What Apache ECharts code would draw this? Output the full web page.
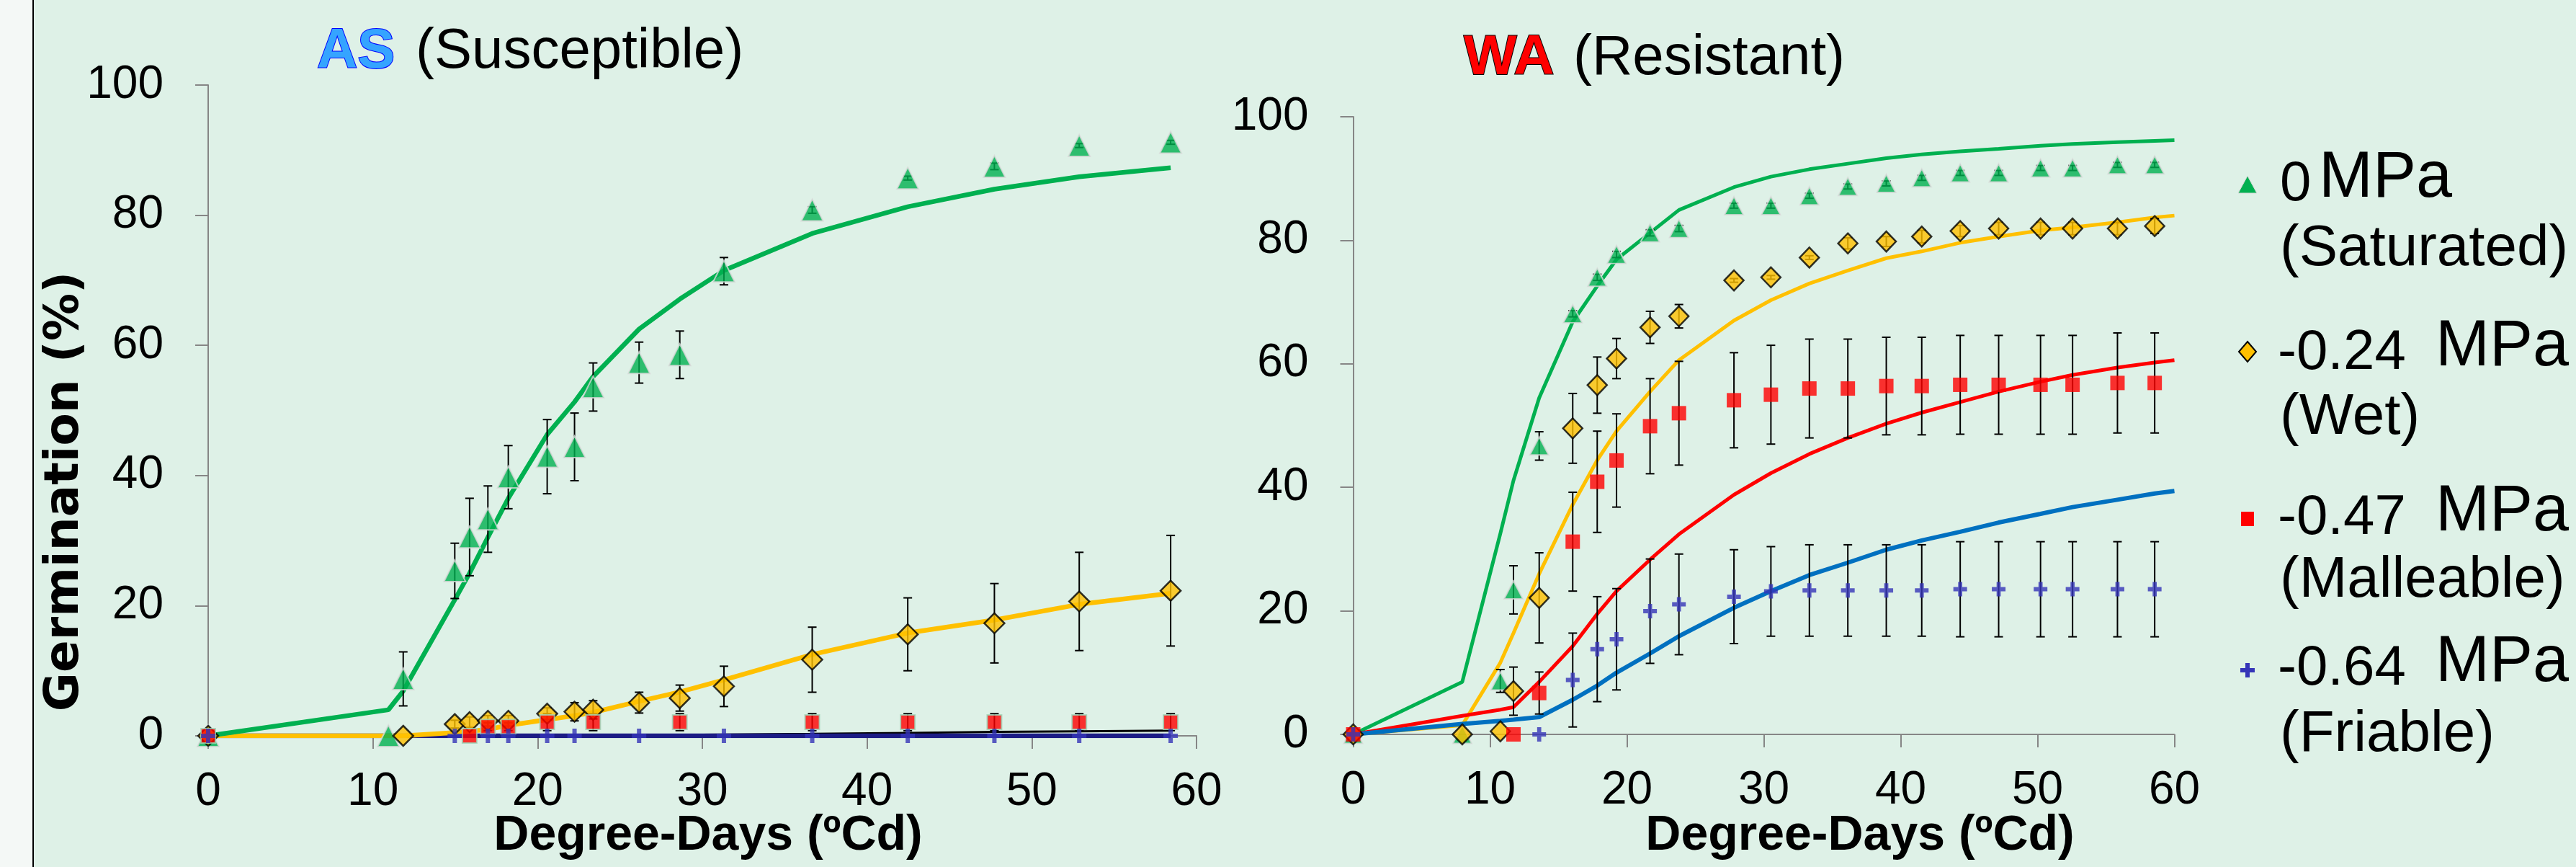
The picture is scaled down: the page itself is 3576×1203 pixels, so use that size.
<!DOCTYPE html>
<html>
<head>
<meta charset="utf-8">
<script src="https://cdn.jsdelivr.net/npm/echarts@6.0.0/dist/echarts.min.js"></script>
<style>
  html, body { margin: 0; padding: 0; background: #def1e7; }
  #chart { width: 3576px; height: 1203px; }
</style>
</head>
<body>
<div id="chart"></div>
<script>
// ---- AS (Susceptible) ----
const asX = [0, 10.94, 11.84, 14.97, 15.87, 16.98, 18.22, 20.58, 22.24, 23.37, 26.16, 28.63, 31.31, 36.67, 42.47, 47.73, 52.88, 58.43];
const asSat = [0, 0, 8.75, 25.35, 30.55, 33.3, 39.75, 42.9, 44.4, 53.6, 57.35, 58.55, 71.4, 80.8, 85.7, 87.5, 90.7, 91.2];
const asSatErr = [1, 0, 4.15, 4.25, 5.95, 5.1, 4.85, 5.7, 5.2, 3.7, 3.15, 3.65, 2.1, 0.5, 0.3, 0.5, 0.3, 0.3];
const asSatFit = [0, 4.0, 6.9, 20.9, 25.0, 30.5, 36.5, 46.3, 51.3, 55.2, 62.5, 67.1, 71.5, 77.2, 81.3, 84.0, 85.9, 87.3];
const asWet = [0, null, 0, 1.8, 2.1, 2.3, 2.3, 3.4, 3.7, 4.0, 5.1, 5.8, 7.6, 11.7, 15.6, 17.3, 20.65, 22.3];
const asWetErr = [1, null, 0, 0.6, 0.8, 0.8, 0.8, 0.9, 1.4, 1.4, 1.6, 2.0, 3.1, 5.0, 5.6, 6.1, 7.55, 8.5];
const asWetFit = [0, 0, 0, 0.5, 0.7, 1.0, 1.6, 2.5, 3.1, 3.6, 5.3, 6.75, 8.6, 12.5, 15.8, 17.8, 20.2, 21.9];
const asMal = [0, null, null, null, 0, 1.4, 1.4, 2.1, null, 2.1, null, 2.1, null, 2.1, 2.1, 2.1, 2.1, 2.1];
const asMalErr = [1, null, null, null, 0, 0.6, 0.6, 1.3, null, 1.3, null, 1.3, null, 1.3, 1.3, 1.3, 1.3, 1.3];
const asMalFit = [0, 0, 0, 0, 0, 0, 0, 0.05, 0.08, 0.1, 0.12, 0.15, 0.2, 0.3, 0.45, 0.6, 0.7, 0.8];
const asFri = [0, null, null, 0, null, 0, 0, 0, 0, null, 0, null, 0, 0, 0, 0, 0, 0];
const asFriFit = [0, 0, 0, 0, 0, 0, 0, 0, 0, 0, 0, 0, 0, 0, 0, 0, 0, 0];

// ---- WA (Resistant) ----
const waX = [0, 7.97, 10.75, 11.71, 13.59, 16.04, 17.83, 19.24, 21.69, 23.8, 27.82, 30.52, 33.33, 36.14, 38.95, 41.54, 44.35, 47.16, 50.22, 52.56, 55.84, 58.56];
const waFitX = [0, 7.97, 10.75, 11.71, 13.59, 16.04, 17.83, 19.24, 21.69, 23.8, 27.82, 30.52, 33.33, 36.14, 38.95, 41.54, 44.35, 47.16, 50.22, 52.56, 55.84, 58.56, 60];
const waSat = [0, 0, 8.65, 23.4, 46.7, 68.1, 74.0, 77.7, 81.2, 81.9, 85.6, 85.6, 87.2, 88.7, 89.2, 90.1, 90.9, 90.9, 91.7, 91.7, 92.2, 92.2];
const waSatErr = [0, 0, 1.85, 3.9, 2.3, 0.5, 0.5, 0.5, 0.5, 0.5, 0.4, 0.4, 0.4, 0.4, 0.4, 0.4, 0.4, 0.4, 0.4, 0.4, 0.4, 0.4];
const waSatFit = [0, 8.5, 32.5, 41.1, 54.5, 66.8, 72.6, 76.9, 81.2, 84.9, 88.6, 90.3, 91.5, 92.4, 93.3, 93.9, 94.4, 94.8, 95.3, 95.6, 95.9, 96.1, 96.2];
const waWet = [0, 0, 0.5, 7.0, 22.1, 49.55, 56.55, 60.85, 65.9, 67.7, 73.5, 74.0, 77.2, 79.5, 79.8, 80.6, 81.5, 81.9, 81.9, 81.9, 81.9, 82.3];
const waWetErr = [0, 0, 0, 3.9, 7.3, 5.65, 4.55, 3.25, 2.6, 1.9, 0.3, 0.3, 0.3, 0.9, 0.8, 1.0, 0.9, 1.0, 1.0, 1.0, 1.0, 1.2];
const waWetFit = [0, 1.5, 11.6, 16.4, 26.0, 37.2, 44.4, 49.1, 55.5, 60.6, 67.0, 70.3, 73.0, 75.1, 77.1, 78.2, 79.6, 80.6, 81.6, 82.1, 82.9, 83.7, 84.0];
const waMal = [0, null, null, 0, 6.7, 31.2, 40.9, 44.35, 49.9, 52.0, 54.1, 55.0, 56.0, 56.0, 56.4, 56.4, 56.6, 56.6, 56.6, 56.6, 56.9, 56.9];
const waMalErr = [0, null, null, 0, 3.4, 8.0, 8.2, 7.55, 7.7, 8.4, 7.7, 8.0, 8.0, 8.0, 7.9, 7.9, 8.0, 8.0, 8.0, 8.0, 8.1, 8.1];
const waMalFit = [0, 3.0, 4.0, 4.4, 8.5, 14.3, 19.5, 23.2, 28.3, 32.4, 38.8, 42.3, 45.4, 48.0, 50.3, 52.1, 53.8, 55.5, 57.1, 58.2, 59.4, 60.2, 60.6];
const waFri = [0, null, null, null, 0, 8.8, 13.8, 15.4, 19.95, 21.05, 22.3, 23.15, 23.3, 23.3, 23.3, 23.3, 23.5, 23.5, 23.5, 23.5, 23.5, 23.5];
const waFriErr = [0, null, null, null, 0, 7.6, 8.5, 8.2, 8.45, 8.15, 7.6, 7.25, 7.4, 7.4, 7.4, 7.4, 7.7, 7.7, 7.7, 7.7, 7.7, 7.7];
const waFriFit = [0, 1.7, 2.2, 2.4, 2.8, 5.6, 7.9, 10.0, 13.1, 15.9, 20.5, 23.2, 25.8, 27.8, 29.9, 31.4, 32.8, 34.3, 35.7, 36.8, 38.0, 39.0, 39.4];

const xTicks = [0, 10, 20, 30, 40, 50, 60];
const yTicks = [0, 20, 40, 60, 80, 100];
const legendNums = ["0", "-0.24", "-0.47", "-0.64"];
const legendNotes = ["(Saturated)", "(Wet)", "(Malleable)", "(Friable)"];

const FONT = '"Liberation Sans", Arial, sans-serif';
const WIDE = '"DejaVu Sans", Verdana, sans-serif';
const GREEN = "#00b050", YELLOW = "#ffc000", RED = "#ff0000", PLUS = "#3535b8";
const plusPath = "path://M3.5,0h3v3.5h3.5v3h-3.5v3.5h-3v-3.5h-3.5v-3h3.5z";

const pairs = (xs, ys) => xs.map((x, i) => (ys[i] == null ? null : [x, ys[i]])).filter(Boolean);
const triples = (xs, ys, es) =>
    xs.map((x, i) => (ys[i] == null || !es[i] ? null : [x, ys[i], es[i]])).filter(Boolean);

const fitLine = (g, xs, ys, color, width, z) => ({
    type: "line", xAxisIndex: g, yAxisIndex: g, data: pairs(xs, ys),
    showSymbol: false, symbol: "none", smooth: false, z: z || 2,
    lineStyle: { color: color, width: width }, silent: true,
});

const marks = (g, xs, ys, symbol, size, style) => ({
    type: "scatter", xAxisIndex: g, yAxisIndex: g, data: pairs(xs, ys),
    symbol: symbol, symbolSize: size, itemStyle: style, z: 5, silent: true,
});

// vertical error bar with caps, placed through the axis scales
const errBars = (g, xs, ys, es) => ({
    type: "custom", xAxisIndex: g, yAxisIndex: g, data: triples(xs, ys, es), z: 3, silent: true,
    renderItem: (params, api) => {
        const x = api.value(0), y = api.value(1), e = api.value(2);
        const top = api.coord([x, y + e]);
        const bot = api.coord([x, y - e]);
        const s = { stroke: "#000", lineWidth: 2 };
        return {
            type: "group",
            children: [
                { type: "line", shape: { x1: top[0], y1: top[1], x2: bot[0], y2: bot[1] }, style: s },
                { type: "line", shape: { x1: top[0] - 6, y1: top[1], x2: top[0] + 6, y2: top[1] }, style: s },
                { type: "line", shape: { x1: bot[0] - 6, y1: bot[1], x2: bot[0] + 6, y2: bot[1] }, style: s },
            ],
        };
    },
});

const axisGray = { color: "#868686", width: 2 };
const makeX = (g) => ({
    gridIndex: g, type: "value", min: xTicks[0], max: xTicks[xTicks.length - 1], interval: 10,
    axisLine: { show: true, onZero: false, lineStyle: axisGray },
    axisTick: { show: true, length: 18, lineStyle: axisGray },
    axisLabel: { fontSize: 64, color: "#000", fontFamily: FONT, margin: 46 },
    splitLine: { show: false },
});
const makeY = (g) => ({
    gridIndex: g, type: "value", min: yTicks[0], max: yTicks[yTicks.length - 1], interval: 20,
    axisLine: { show: true, lineStyle: axisGray },
    axisTick: { show: true, length: 18, lineStyle: axisGray },
    axisLabel: { fontSize: 64, color: "#000", fontFamily: FONT, margin: 62 },
    splitLine: { show: false },
});

const txt = (x, y, text, font, extra) => ({
    type: "text", x: x, y: y, z: 10,
    style: Object.assign({ text: text, font: font, fill: "#000", align: "left", verticalAlign: "middle" }, extra || {}),
});

// legend rows: first-line centre y, second-line centre y
const legendRows = [
    { ny: 252, ly: 346 },
    { ny: 486, ly: 580 },
    { ny: 715, ly: 806 },
    { ny: 924, ly: 1020 },
];
const legendMarkers = [
    { type: "polygon", shape: { points: [[3107, 268], [3133, 268], [3120, 244]] }, style: { fill: GREEN, stroke: "#d9d9d9", lineWidth: 1 } },
    { type: "polygon", shape: { points: [[3120, 474], [3132, 488], [3120, 502], [3108, 488]] }, style: { fill: YELLOW, stroke: "#000", lineWidth: 2 } },
    { type: "rect", shape: { x: 3111, y: 710, width: 18, height: 20 }, style: { fill: RED } },
    { type: "rect", shape: { x: 3117, y: 920, width: 6, height: 20 }, style: { fill: PLUS } },
    { type: "rect", shape: { x: 3110, y: 927, width: 20, height: 6 }, style: { fill: PLUS } },
];

const graphics = [
    { type: "rect", shape: { x: 0, y: 0, width: 45, height: 1203 }, style: { fill: "#f4f8f6" } },
    { type: "line", shape: { x1: 46, y1: 0, x2: 46, y2: 1203 }, style: { stroke: "#000", lineWidth: 2 } },
    txt(440, 72, "AS", "bold 78px " + FONT, { fill: "#35a4ff", stroke: "#0000ff", lineWidth: 2 }),
    txt(577, 72, "(Susceptible)", "78px " + FONT),
    txt(2032, 81, "WA", "bold 78px " + FONT, { fill: "#ff0000", stroke: "#000", lineWidth: 2 }),
    txt(2184, 81, "(Resistant)", "78px " + FONT),
    Object.assign(txt(91, 682, "Germination (%)", "bold 66px " + WIDE, { align: "center" }), { rotation: Math.PI / 2 }),
    txt(983, 1160, "Degree-Days (ºCd)", "bold 68px " + FONT, { align: "center" }),
    txt(2582, 1160, "Degree-Days (ºCd)", "bold 68px " + FONT, { align: "center" }),
].concat(legendMarkers.map((m) => Object.assign({ z: 10 }, m)));

legendRows.forEach((r, i) => {
    const numX = i === 0 ? 3165 : 3162;
    const mpaX = i === 0 ? 3219 : 3381;
    graphics.push(txt(numX, r.ny + 4, legendNums[i], "78px " + FONT));
    graphics.push(txt(mpaX, r.ny - 4, "MPa", "90px " + FONT));
    graphics.push(txt(3165, r.ly, legendNotes[i], "80px " + FONT));
});

const chart = echarts.init(document.getElementById("chart"));
chart.setOption({
    backgroundColor: "#def1e7",
    animation: false,
    textStyle: { fontFamily: FONT },
    grid: [
        { left: 289, top: 118, width: 1372, height: 903 },
        { left: 1878.5, top: 162, width: 1140, height: 857 },
    ],
    xAxis: [makeX(0), makeX(1)],
    yAxis: [makeY(0), makeY(1)],
    series: [
        // AS fitted curves
        fitLine(0, asX, asMalFit, "#000", 3, 2),
        fitLine(0, asX, asFriFit, "#1c1c85", 6.5, 2),
        fitLine(0, asX, asWetFit, YELLOW, 6.5, 2),
        fitLine(0, asX, asSatFit, GREEN, 6.5, 2),
        // AS error bars
        errBars(0, asX, asSat, asSatErr),
        errBars(0, asX, asWet, asWetErr),
        errBars(0, asX, asMal, asMalErr),
        // AS observations
        marks(0, asX, asSat, "triangle", [30, 30], { color: GREEN, borderColor: "#d9d9d9", borderWidth: 2 }),
        marks(0, asX, asWet, "diamond", [28, 28], { color: YELLOW, borderColor: "#000", borderWidth: 2.5 }),
        marks(0, asX, asMal, "rect", [20, 20], { color: RED, borderColor: "#9fd3b6", borderWidth: 2 }),
        marks(0, asX, asFri, plusPath, [20, 20], { color: PLUS }),
        // WA fitted curves
        fitLine(1, waFitX, waSatFit, GREEN, 5, 2),
        fitLine(1, waFitX, waWetFit, YELLOW, 5, 2),
        fitLine(1, waFitX, waMalFit, RED, 5, 2),
        fitLine(1, waFitX, waFriFit, "#0070c0", 6, 2),
        // WA error bars
        errBars(1, waX, waSat, waSatErr),
        errBars(1, waX, waWet, waWetErr),
        errBars(1, waX, waMal, waMalErr),
        errBars(1, waX, waFri, waFriErr),
        // WA observations
        marks(1, waX, waSat, "triangle", [26, 25], { color: GREEN, borderColor: "#d9d9d9", borderWidth: 2 }),
        marks(1, waX, waWet, "diamond", [27, 28], { color: YELLOW, borderColor: "#000", borderWidth: 2.5 }),
        marks(1, waX, waMal, "rect", [20, 20], { color: RED }),
        marks(1, waX, waFri, plusPath, [19, 20], { color: PLUS }),
    ],
    graphic: graphics,
});
window.addEventListener("resize", () => chart.resize());
</script>
</body>
</html>
